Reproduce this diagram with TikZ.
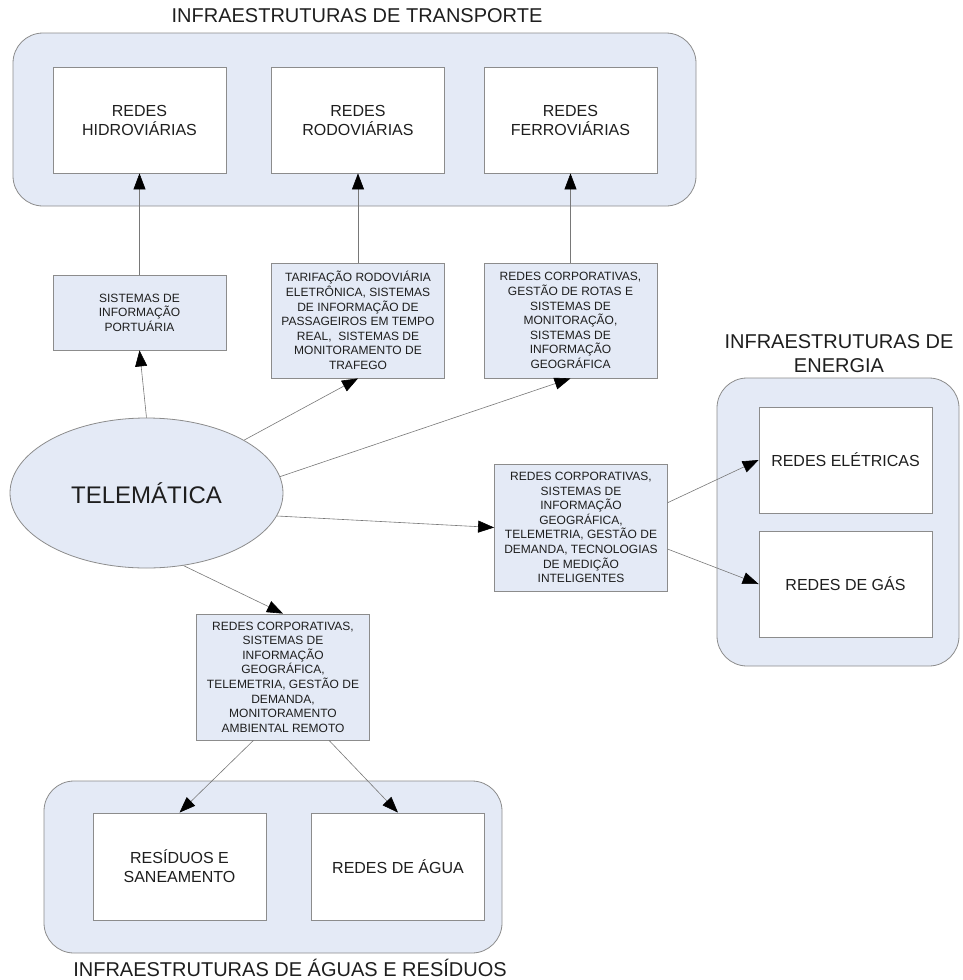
\documentclass[tikz,border=0pt]{standalone}
\usepackage{fontspec}
\setmainfont{Liberation Sans}
\usetikzlibrary{shapes.geometric,arrows.meta}
\definecolor{paleblue}{RGB}{228,234,246}
\definecolor{edgegray}{RGB}{140,140,140}
\definecolor{linegray}{RGB}{120,120,120}
\definecolor{textgray}{RGB}{30,30,30}

\begin{document}
\begin{tikzpicture}[x=1pt,y=-1pt]
  \useasboundingbox (0,0) rectangle (962,980);
  \tikzstyle{group}=[draw=edgegray, fill=paleblue, rounded corners=30pt, line width=0.8pt]
  \tikzstyle{netbox}=[rectangle, draw=edgegray, fill=white, line width=0.8pt, minimum width=173pt, minimum height=106pt, inner sep=0pt, align=center, text=textgray, font=\fontsize{16}{19}\selectfont]
  \tikzstyle{techbox}=[rectangle, draw=edgegray, fill=paleblue, line width=0.8pt, minimum width=173pt, inner sep=0pt, align=center, text=textgray, font=\fontsize{12}{14.6}\selectfont]
  \tikzstyle{title}=[text=textgray, align=center, font=\fontsize{20}{24}\selectfont]
  \tikzstyle{link}=[draw=linegray, line width=0.6pt, -{Triangle[length=16pt,width=12pt,color=black]}]

  \draw[group] (13,33) rectangle (696,206);
  \draw[group] (717,378) rectangle (959,666);
  \draw[group] (44,781) rectangle (502,953);

  \node[title] (ttransp) at (357,16) {INFRAESTRUTURAS DE TRANSPORTE};
  \node[title] (tenergia) at (839,354) {INFRAESTRUTURAS DE\\ENERGIA};
  \node[title] (tagua) at (290,968) {INFRAESTRUTURAS DE ÁGUAS E RESÍDUOS};

  \node[netbox] (hidro) at (139.5,120) {REDES\\HIDROVIÁRIAS};
  \node[netbox] (rodo) at (358,120) {REDES\\RODOVIÁRIAS};
  \node[netbox] (ferro) at (570.5,120) {REDES\\FERROVIÁRIAS};
  \node[netbox] (eletr) at (845.5,460) {REDES ELÉTRICAS};
  \node[netbox] (gas) at (845.5,584) {REDES DE GÁS};
  \node[netbox, minimum height=107pt] (resid) at (179.5,866.5) {RESÍDUOS E\\SANEAMENTO};
  \node[netbox, minimum height=107pt] (agua) at (398,866.5) {REDES DE ÁGUA};

  \node[techbox, minimum height=75pt] (porto) at (139.5,312.5) {SISTEMAS DE\\INFORMAÇÃO\\PORTUÁRIA};
  \node[techbox, minimum height=115pt] (tarifa) at (358,320.5) {TARIFAÇÃO RODOVIÁRIA\\ELETRÔNICA, SISTEMAS\\DE INFORMAÇÃO DE\\PASSAGEIROS EM TEMPO\\REAL,~ SISTEMAS DE\\MONITORAMENTO DE\\TRAFEGO};
  \node[techbox, minimum height=115pt] (rotas) at (570.5,320.5) {REDES CORPORATIVAS,\\GESTÃO DE ROTAS E\\SISTEMAS DE\\MONITORAÇÃO,\\SISTEMAS DE\\INFORMAÇÃO\\GEOGRÁFICA};
  \node[techbox, minimum height=127pt] (enmid) at (581,527.5) {REDES CORPORATIVAS,\\SISTEMAS DE\\INFORMAÇÃO\\GEOGRÁFICA,\\TELEMETRIA, GESTÃO DE\\DEMANDA, TECNOLOGIAS\\DE MEDIÇÃO\\INTELIGENTES};
  \node[techbox, minimum height=126pt] (wmid) at (283,677) {REDES CORPORATIVAS,\\SISTEMAS DE\\INFORMAÇÃO\\GEOGRÁFICA,\\TELEMETRIA, GESTÃO DE\\DEMANDA,\\MONITORAMENTO\\AMBIENTAL REMOTO};

  \node[ellipse, draw=edgegray, fill=paleblue, line width=0.8pt, minimum width=273pt, minimum height=150pt, inner sep=0pt, text=textgray, font=\fontsize{24}{28}\selectfont] (tele) at (146.5,493) {TELEMÁTICA};

  \draw[link] (porto) -- (hidro);
  \draw[link] (tarifa) -- (rodo);
  \draw[link] (rotas) -- (ferro);
  \draw[link] (tele.north) -- (porto.south);
  \draw[link] (tele) -- (tarifa.south);
  \draw[link] (tele.7) -- (rotas.south);
  \draw[link] (tele.-10) -- (enmid.west);
  \draw[link] (tele.-63) -- (wmid.north);
  \draw[link] (enmid.16) -- (eletr.west);
  \draw[link] (enmid.-14) -- (gas.west);
  \draw[link] (wmid.-115) -- (resid.north);
  \draw[link] (wmid.-54) -- (agua.north);
\end{tikzpicture}
\end{document}
